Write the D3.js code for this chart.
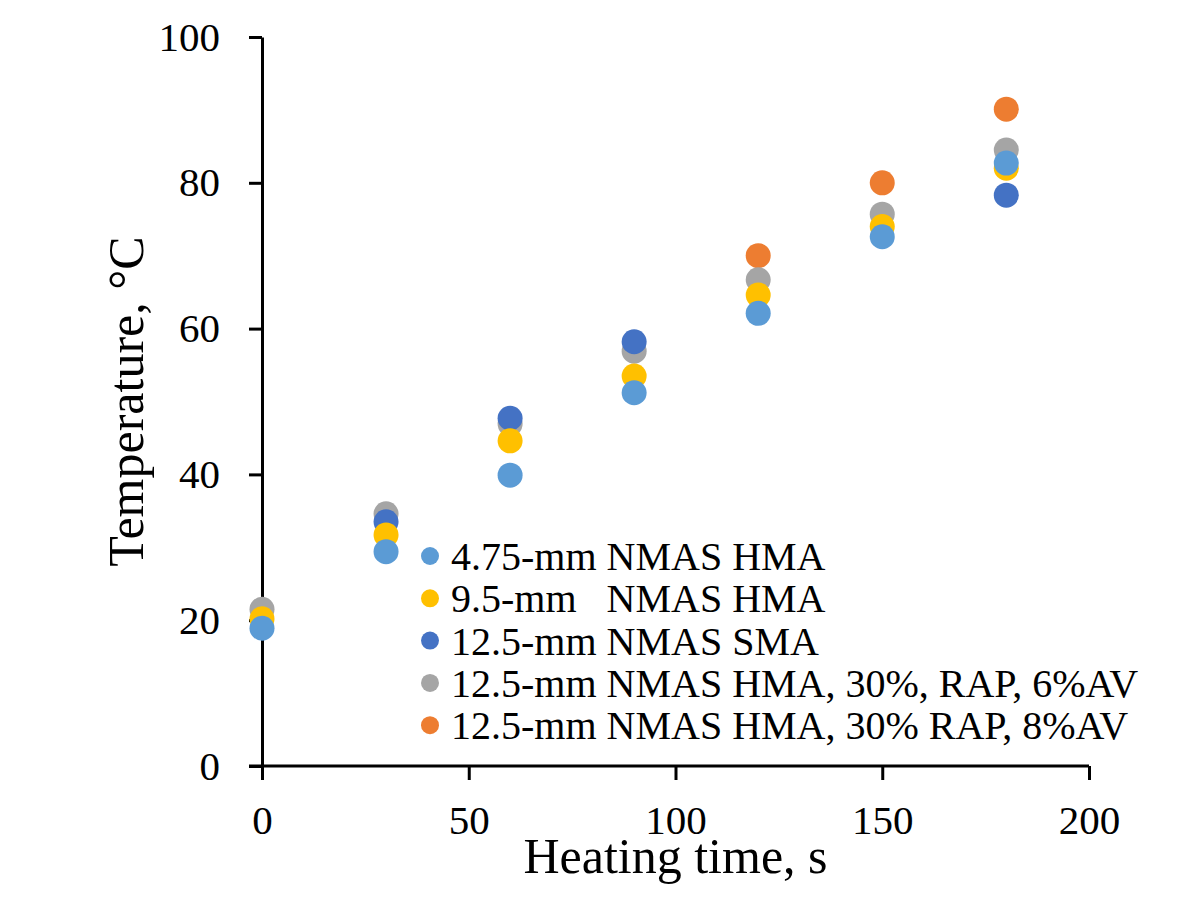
<!DOCTYPE html>
<html>
<head>
<meta charset="utf-8">
<script src="https://cdn.jsdelivr.net/npm/d3@7"></script>
<style>
  body { margin: 0; background: #fff; }
  text { font-family: "Liberation Serif", "Times New Roman", serif; fill: #000; }
</style>
</head>
<body>
<svg id="chart"></svg>
<script>
"use strict";

// heating time, s
const times = [0, 30, 60, 90, 120, 150, 180];

// temperature, °C (null = no visible point)
const nmas475hma = [18.9, 29.4, 39.9, 51.2, 62.1, 72.6, 82.7];
const nmas95hma  = [20.2, 31.7, 44.6, 53.5, 64.6, 74.0, 82.0];
const nmas125sma = [null, 33.5, 47.7, 58.2, null, null, 78.3];
const rap6av     = [21.5, 34.6, 46.9, 56.9, 66.7, 75.7, 84.5];
const rap8av     = [null, null, null, null, 70.0, 80.0, 90.1];

const seriesNames = [
  "4.75-mm NMAS HMA",
  "9.5-mm   NMAS HMA",
  "12.5-mm NMAS SMA",
  "12.5-mm NMAS HMA, 30%, RAP, 6%AV",
  "12.5-mm NMAS HMA, 30% RAP, 8%AV"
];
const seriesValues = [nmas475hma, nmas95hma, nmas125sma, rap6av, rap8av];
const seriesColors = ["#5B9BD5", "#FFC000", "#4472C4", "#A5A5A5", "#ED7D31"];

const xTicks = [0, 50, 100, 150, 200];
const yTicks = [0, 20, 40, 60, 80, 100];

const width = 1199, height = 897;
const margin = { top: 37, right: 110, bottom: 131, left: 262 };

const svg = d3.select("#chart")
  .attr("width", width)
  .attr("height", height);

svg.append("rect")
  .attr("width", width).attr("height", height)
  .attr("fill", "#fff");

const x = d3.scaleLinear()
  .domain([0, 200])
  .range([margin.left, width - margin.right]);
const y = d3.scaleLinear()
  .domain([0, 100])
  .range([height - margin.bottom, margin.top]);

// axes
const xAxis = svg.append("g")
  .attr("transform", `translate(0, ${y(0)})`)
  .call(d3.axisBottom(x).tickValues(xTicks).tickSize(14).tickPadding(25).tickSizeOuter(0));
const yAxis = svg.append("g")
  .attr("transform", `translate(${x(0)}, 0)`)
  .call(d3.axisLeft(y).tickValues(yTicks).tickSize(13).tickPadding(29).tickSizeOuter(0));

[xAxis, yAxis].forEach((g) => {
  g.select(".domain").attr("stroke", "#000").attr("stroke-width", 3);
  g.selectAll(".tick line").attr("stroke", "#000").attr("stroke-width", 3);
  g.selectAll(".tick text")
    .style("font-family", '"Liberation Serif", serif')
    .style("font-size", "41px")
    .attr("fill", "#000");
});
xAxis.select(".domain").attr("d", `M${x(0) - 13},0H${x(200)}`);

// points, later series first so the first series ends up on top
for (let s = seriesValues.length - 1; s >= 0; s--) {
  const pts = times
    .map((t, i) => ({ t: t, v: seriesValues[s][i] }))
    .filter((d) => d.v !== null);
  svg.append("g").selectAll("circle")
    .data(pts)
    .enter().append("circle")
      .attr("cx", (d) => x(d.t))
      .attr("cy", (d) => y(d.v))
      .attr("r", 12.5)
      .attr("fill", seriesColors[s]);
}

// legend
const legend = svg.append("g").attr("transform", "translate(430, 556)");
seriesNames.forEach((name, i) => {
  const row = legend.append("g").attr("transform", `translate(0, ${i * 42.3})`);
  row.append("circle").attr("r", 9).attr("fill", seriesColors[i]);
  row.append("text")
    .attr("x", 21)
    .attr("dy", "0.35em")
    .style("font-size", "40px")
    .style("white-space", "pre")
    .attr("xml:space", "preserve")
    .text(name);
});

// axis titles
svg.append("text")
  .attr("x", (x(0) + x(200)) / 2)
  .attr("y", 873)
  .attr("text-anchor", "middle")
  .style("font-size", "50px")
  .text("Heating time, s");

svg.append("text")
  .attr("transform", `translate(143, ${(y(0) + y(100)) / 2}) rotate(-90)`)
  .attr("text-anchor", "middle")
  .style("font-size", "50px")
  .text("Temperature, °C");
</script>
</body>
</html>
